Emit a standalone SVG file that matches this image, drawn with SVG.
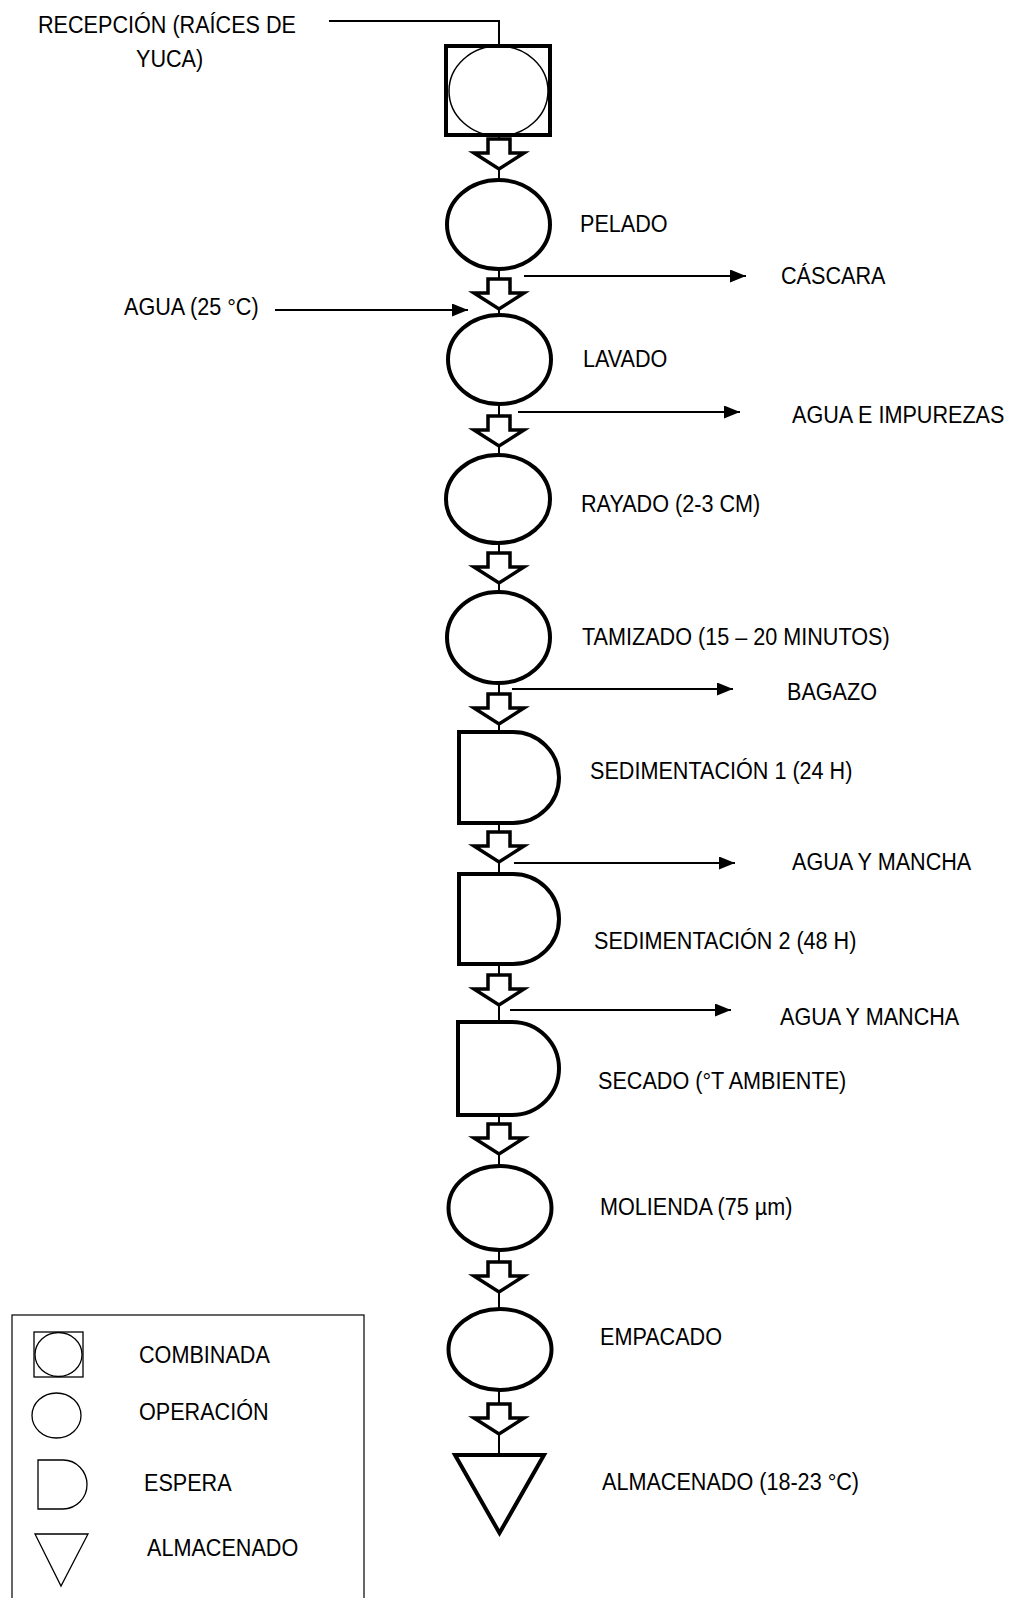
<svg xmlns="http://www.w3.org/2000/svg" xmlns:xlink="http://www.w3.org/1999/xlink" width="1012" height="1598" viewBox="0 0 1012 1598">
<style>
.t{font-family:"Liberation Sans",Arial,sans-serif;font-size:24px;fill:#000}
.sh{fill:#fff;stroke:#000;stroke-width:4}
.thin{fill:#fff;stroke:#000;stroke-width:1.3}
.ln{fill:none;stroke:#000;stroke-width:2}
.ba{fill:#fff;stroke:#000;stroke-width:3.5;stroke-linejoin:miter}
</style>
<defs>
<path id="ba" d="M-11,2 H11 V16 H25 L0,32 L-25,16 H-11 Z"/>
<marker id="ah" markerUnits="userSpaceOnUse" markerWidth="17" markerHeight="14" refX="16" refY="6.5" orient="auto">
<path d="M0,0 L16,6.5 L0,13 Z" fill="#000"/>
</marker>
</defs>
<rect width="1012" height="1598" fill="#fff"/>

<g id="connectors">
<path class="ln" d="M329,21 H499 V1455" stroke-width="1.6"/>
<use href="#ba" class="ba" x="499" y="137"/>
<use href="#ba" class="ba" x="499" y="277"/>
<use href="#ba" class="ba" x="499" y="414"/>
<use href="#ba" class="ba" x="499" y="551"/>
<use href="#ba" class="ba" x="499" y="692"/>
<use href="#ba" class="ba" x="499" y="830"/>
<use href="#ba" class="ba" x="499" y="973"/>
<use href="#ba" class="ba" x="499" y="1122"/>
<use href="#ba" class="ba" x="499" y="1260"/>
<use href="#ba" class="ba" x="499" y="1402"/>
<line class="ln" x1="524" y1="276" x2="746" y2="276" marker-end="url(#ah)"/>
<line class="ln" x1="275" y1="310" x2="468" y2="310" marker-end="url(#ah)"/>
<line class="ln" x1="518" y1="412" x2="740" y2="412" marker-end="url(#ah)"/>
<line class="ln" x1="512" y1="689" x2="733" y2="689" marker-end="url(#ah)"/>
<line class="ln" x1="514" y1="863" x2="735" y2="863" marker-end="url(#ah)"/>
<line class="ln" x1="510" y1="1010" x2="731" y2="1010" marker-end="url(#ah)"/>
<text class="t" transform="translate(781,284) scale(0.9,1)">CÁSCARA</text>
<text class="t" transform="translate(124,315) scale(0.9,1)">AGUA (25 °C)</text>
<text class="t" transform="translate(792,423) scale(0.9,1)">AGUA E IMPUREZAS</text>
<text class="t" transform="translate(787,700) scale(0.9,1)">BAGAZO</text>
<text class="t" transform="translate(792,870) scale(0.9,1)">AGUA Y MANCHA</text>
<text class="t" transform="translate(780,1025) scale(0.9,1)">AGUA Y MANCHA</text>
</g>

<g id="recepcion">
<rect class="sh" x="446" y="46" width="104" height="89"/>
<ellipse cx="498.5" cy="91" rx="49.5" ry="45" fill="none" stroke="#000" stroke-width="1.5"/>
<text class="t" transform="translate(38,33) scale(0.9,1)">RECEPCIÓN (RAÍCES DE</text>
<text class="t" transform="translate(136,67) scale(0.9,1)">YUCA)</text>
</g>
<g id="pelado">
<ellipse class="sh" cx="498.5" cy="224.5" rx="51.5" ry="44.5"/>
<text class="t" transform="translate(580,232) scale(0.9,1)">PELADO</text>
</g>
<g id="lavado">
<ellipse class="sh" cx="499.5" cy="359.5" rx="51.5" ry="44.5"/>
<text class="t" transform="translate(583,367) scale(0.9,1)">LAVADO</text>
</g>
<g id="rayado">
<ellipse class="sh" cx="498" cy="499" rx="52" ry="44"/>
<text class="t" transform="translate(581,512) scale(0.9,1)">RAYADO (2-3 CM)</text>
</g>
<g id="tamizado">
<ellipse class="sh" cx="498.5" cy="637.5" rx="51.5" ry="45.5"/>
<text class="t" transform="translate(582,645) scale(0.9,1)">TAMIZADO (15 – 20 MINUTOS)</text>
</g>
<g id="sedimentacion1">
<path class="sh" d="M459,732 H513 A46,45.5 0 0 1 513,823 H459 Z"/>
<text class="t" transform="translate(590,779) scale(0.9,1)">SEDIMENTACIÓN 1 (24 H)</text>
</g>
<g id="sedimentacion2">
<path class="sh" d="M459,874 H513 A46,45 0 0 1 513,964 H459 Z"/>
<text class="t" transform="translate(594,949) scale(0.9,1)">SEDIMENTACIÓN 2 (48 H)</text>
</g>
<g id="secado">
<path class="sh" d="M458,1022 H512 A47,46.5 0 0 1 512,1115 H458 Z"/>
<text class="t" transform="translate(598,1089) scale(0.9,1)">SECADO (°T AMBIENTE)</text>
</g>
<g id="molienda">
<ellipse class="sh" cx="500" cy="1208" rx="51.5" ry="42"/>
<text class="t" transform="translate(600,1215) scale(0.9,1)">MOLIENDA (75 µm)</text>
</g>
<g id="empacado">
<ellipse class="sh" cx="500" cy="1349.5" rx="51.5" ry="40.5"/>
<text class="t" transform="translate(600,1345) scale(0.9,1)">EMPACADO</text>
</g>
<g id="almacenado">
<polygon class="sh" points="455,1455 544,1455 499.5,1533" stroke-width="4.5"/>
<text class="t" transform="translate(602,1490) scale(0.9,1)">ALMACENADO (18-23 °C)</text>
</g>

<g id="legend">
<rect x="12" y="1315" width="352" height="300" fill="none" stroke="#000" stroke-width="1.2"/>
<rect class="thin" x="34" y="1332" width="49" height="45"/>
<ellipse cx="58.5" cy="1354.5" rx="23.5" ry="22" fill="none" stroke="#000" stroke-width="1.3"/>
<text class="t" transform="translate(139,1363) scale(0.9,1)">COMBINADA</text>
<ellipse class="thin" cx="56.5" cy="1415.5" rx="24.5" ry="22.5"/>
<text class="t" transform="translate(139,1420) scale(0.9,1)">OPERACIÓN</text>
<path class="thin" d="M38,1460 H63 A24,24.5 0 0 1 63,1509 H38 Z"/>
<text class="t" transform="translate(144,1491) scale(0.9,1)">ESPERA</text>
<polygon class="thin" points="35,1534 88,1534 61,1586"/>
<text class="t" transform="translate(147,1556) scale(0.9,1)">ALMACENADO</text>
</g>
</svg>
